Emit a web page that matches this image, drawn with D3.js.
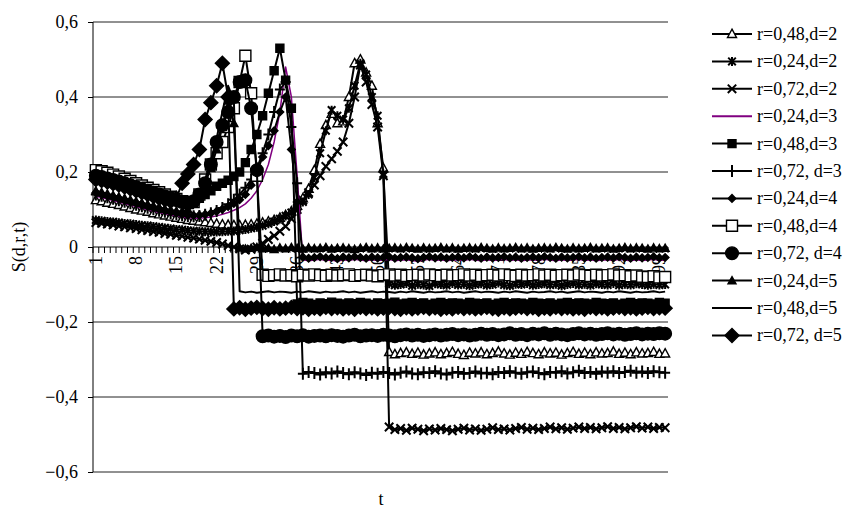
<!DOCTYPE html>
<html><head><meta charset="utf-8">
<script src="https://cdn.jsdelivr.net/npm/d3@7/dist/d3.min.js"></script>
<style>body{margin:0;background:#fff}svg text{font-family:"Liberation Serif","Times New Roman",serif !important;fill:#000}</style>
</head><body><svg id="c" width="863" height="517"></svg>
<script>
// ---------- DATA ----------
const categories = ["1","2","3","4","5","6","7","8","9","10","11","12","13","14","15","16","17","18","19","20","21","22","23","24","25","26","27","28","29","30","31","32","33","34","35","36","37","38","39","40","41","42","43","44","45","46","47","48","49","50","51","52","53","54","55","56","57","58","59","60","61","62","63","64","65","66","67","68","69","70","71","72","73","74","75","76","77","78","79","80","81","82","83","84","85","86","87","88","89","90","91","92","93","94","95","96","97","98","99","100"];
const xTickLabels = ["1","8","15","22","29","36","43","50","57","64","71","78","85","92","99"];
const yTickValues = [-0.6,-0.4,-0.2,0,0.2,0.4,0.6];
const seriesNames = ["r=0,48,d=2","r=0,24,d=2","r=0,72,d=2","r=0,24,d=3","r=0,48,d=3","r=0,72, d=3","r=0,24,d=4","r=0,48,d=4","r=0,72, d=4","r=0,24,d=5","r=0,48,d=5","r=0,72, d=5"];

const s48d2 = [0.125,0.122,0.118,0.115,0.112,0.108,0.104,0.100,0.097,0.094,
0.090,0.087,0.084,0.081,0.078,0.075,0.072,0.070,0.068,0.066,
0.064,0.062,0.060,0.059,0.058,0.058,0.059,0.060,0.062,0.065,
0.068,0.072,0.078,0.085,0.095,0.110,0.130,0.155,0.205,0.275,
0.325,0.355,0.330,0.335,0.400,0.490,0.500,0.465,0.430,0.330,
0.210,
-0.280,-0.286,-0.283,-0.281,-0.285,-0.282,-0.287,-0.284,-0.281,-0.286,
-0.283,-0.280,-0.285,-0.288,-0.282,-0.284,-0.281,-0.286,-0.283,-0.279,
-0.284,-0.287,-0.282,-0.285,-0.280,-0.283,-0.286,-0.281,-0.284,-0.282,
-0.287,-0.283,-0.280,-0.285,-0.282,-0.286,-0.281,-0.284,-0.283,-0.279,
-0.285,-0.282,-0.286,-0.281,-0.284,-0.283,-0.280,-0.285,-0.284];

const s24d2 = [0.072,0.070,0.068,0.067,0.065,0.063,0.062,0.060,0.058,0.057,
0.055,0.053,0.051,0.049,0.047,0.046,0.044,0.043,0.042,0.041,
0.040,0.040,0.041,0.042,0.043,0.045,0.047,0.050,0.053,0.057,
0.062,0.068,0.075,0.083,0.092,0.105,0.120,0.140,0.185,0.250,
0.310,0.365,0.350,0.340,0.370,0.430,0.490,0.460,0.400,0.350,
0.195,
-0.098,-0.102,-0.100,-0.097,-0.103,-0.099,-0.101,-0.104,-0.098,-0.100,
-0.102,-0.097,-0.101,-0.099,-0.103,-0.100,-0.098,-0.102,-0.100,-0.096,
-0.101,-0.103,-0.099,-0.100,-0.097,-0.102,-0.100,-0.098,-0.101,-0.099,
-0.103,-0.100,-0.097,-0.101,-0.099,-0.102,-0.098,-0.100,-0.101,-0.097,
-0.102,-0.099,-0.101,-0.098,-0.100,-0.102,-0.099,-0.101,-0.100];

const s72d2 = [0.065,0.063,0.061,0.059,0.056,0.054,0.051,0.049,0.046,0.044,
0.041,0.039,0.036,0.034,0.031,0.029,0.026,0.024,0.021,0.018,
0.015,0.012,0.008,0.004,0.000,-0.005,-0.008,-0.006,0.000,0.010,
0.020,0.030,0.042,0.055,0.075,0.100,0.125,0.145,0.165,0.190,
0.215,0.235,0.255,0.280,0.330,0.400,0.485,0.440,0.380,0.320,
0.190,
-0.480,-0.487,-0.484,-0.489,-0.483,-0.486,-0.490,-0.485,-0.488,-0.484,
-0.487,-0.490,-0.486,-0.483,-0.488,-0.485,-0.489,-0.486,-0.482,-0.487,
-0.485,-0.488,-0.484,-0.481,-0.486,-0.483,-0.487,-0.484,-0.480,-0.485,
-0.482,-0.486,-0.483,-0.480,-0.484,-0.481,-0.485,-0.482,-0.479,-0.484,
-0.481,-0.485,-0.482,-0.479,-0.483,-0.480,-0.484,-0.481,-0.482];

const s24d3 = [0.135,0.132,0.128,0.124,0.120,0.116,0.112,0.108,0.104,0.100,
0.096,0.092,0.089,0.086,0.083,0.080,0.078,0.077,0.077,0.078,
0.080,0.083,0.087,0.092,0.098,0.105,0.115,0.130,0.150,0.180,
0.220,0.280,0.360,0.480,0.400,0.190,
-0.034,-0.037,-0.035,-0.033,-0.036,-0.035,-0.038,-0.034,-0.036,-0.033,
-0.035,-0.037,-0.034,-0.036,-0.035,-0.033,-0.037,-0.035,-0.034,-0.036,
-0.038,-0.035,-0.033,-0.036,-0.034,-0.037,-0.035,-0.034,-0.036,-0.033,
-0.035,-0.037,-0.034,-0.036,-0.035,-0.033,-0.036,-0.034,-0.037,-0.035,
-0.034,-0.036,-0.033,-0.035,-0.037,-0.034,-0.036,-0.035,-0.033,-0.036,
-0.034,-0.037,-0.035,-0.034,-0.036,-0.033,-0.035,-0.037,-0.034,-0.036,
-0.035,-0.033,-0.036,-0.035];

const s48d3 = [0.200,0.197,0.193,0.189,0.184,0.179,0.174,0.168,0.162,0.156,
0.150,0.144,0.138,0.132,0.126,0.121,0.117,0.120,0.130,0.140,
0.150,0.162,0.170,0.178,0.188,0.200,0.225,0.260,0.300,0.350,
0.410,0.470,0.530,0.445,0.370,
-0.152,-0.148,-0.150,-0.153,-0.149,-0.151,-0.147,-0.150,-0.152,-0.149,
-0.151,-0.148,-0.150,-0.153,-0.149,-0.151,-0.150,-0.147,-0.152,-0.150,
-0.148,-0.151,-0.149,-0.153,-0.150,-0.148,-0.151,-0.149,-0.150,-0.152,
-0.148,-0.150,-0.151,-0.149,-0.153,-0.150,-0.148,-0.151,-0.149,-0.150,
-0.152,-0.148,-0.150,-0.151,-0.149,-0.153,-0.150,-0.148,-0.151,-0.149,
-0.150,-0.152,-0.148,-0.150,-0.151,-0.149,-0.153,-0.150,-0.148,-0.151,
-0.149,-0.150,-0.152,-0.148,-0.150];

const s72d3 = [0.140,0.137,0.133,0.129,0.125,0.121,0.117,0.113,0.109,0.105,
0.101,0.097,0.094,0.091,0.088,0.085,0.083,0.082,0.083,0.086,
0.090,0.096,0.104,0.114,0.126,0.140,0.158,0.180,0.210,0.250,
0.300,0.360,0.420,0.440,0.320,0.170,
-0.338,-0.333,-0.336,-0.340,-0.334,-0.337,-0.332,-0.336,-0.339,-0.334,
-0.337,-0.341,-0.335,-0.338,-0.333,-0.336,-0.340,-0.335,-0.332,-0.337,
-0.339,-0.334,-0.336,-0.331,-0.337,-0.340,-0.335,-0.333,-0.338,-0.336,
-0.332,-0.337,-0.335,-0.339,-0.333,-0.336,-0.331,-0.335,-0.338,-0.334,
-0.332,-0.336,-0.339,-0.333,-0.335,-0.331,-0.337,-0.334,-0.330,-0.336,
-0.333,-0.338,-0.332,-0.335,-0.331,-0.336,-0.333,-0.330,-0.335,-0.332,
-0.336,-0.331,-0.334,-0.335];

const s24d4 = [0.145,0.141,0.137,0.133,0.129,0.125,0.121,0.117,0.113,0.109,
0.105,0.101,0.097,0.093,0.090,0.087,0.085,0.084,0.085,0.087,
0.090,0.095,0.101,0.108,0.116,0.126,0.140,0.165,0.200,0.240,
0.270,0.310,0.360,0.400,0.260,0.120,
-0.027,-0.030,-0.028,-0.026,-0.029,-0.028,-0.031,-0.027,-0.029,-0.026,
-0.028,-0.030,-0.027,-0.029,-0.028,-0.026,-0.030,-0.028,-0.027,-0.029,
-0.031,-0.028,-0.026,-0.029,-0.027,-0.030,-0.028,-0.027,-0.029,-0.026,
-0.028,-0.030,-0.027,-0.029,-0.028,-0.026,-0.029,-0.027,-0.030,-0.028,
-0.027,-0.029,-0.026,-0.028,-0.030,-0.027,-0.029,-0.028,-0.026,-0.029,
-0.027,-0.030,-0.028,-0.027,-0.029,-0.026,-0.028,-0.030,-0.027,-0.029,
-0.028,-0.026,-0.029,-0.028];

const s48d4 = [0.205,0.202,0.198,0.193,0.188,0.182,0.176,0.170,0.164,0.158,
0.152,0.146,0.140,0.134,0.128,0.122,0.117,0.120,0.140,0.180,
0.220,0.250,0.280,0.320,0.370,0.440,0.510,0.410,0.190,
-0.074,-0.077,-0.075,-0.073,-0.076,-0.075,-0.078,-0.074,-0.076,-0.073,
-0.075,-0.077,-0.074,-0.076,-0.075,-0.073,-0.077,-0.075,-0.074,-0.076,
-0.078,-0.075,-0.073,-0.076,-0.074,-0.077,-0.075,-0.074,-0.076,-0.073,
-0.075,-0.077,-0.074,-0.076,-0.075,-0.073,-0.076,-0.074,-0.077,-0.075,
-0.074,-0.076,-0.073,-0.075,-0.077,-0.074,-0.076,-0.075,-0.073,-0.076,
-0.074,-0.077,-0.075,-0.074,-0.076,-0.073,-0.075,-0.077,-0.074,-0.076,
-0.075,-0.073,-0.076,-0.075,-0.078,-0.076,-0.079,-0.080,-0.078,-0.081,
-0.080];

const s72d4 = [0.190,0.187,0.183,0.179,0.175,0.170,0.165,0.160,0.155,0.150,
0.145,0.140,0.135,0.130,0.125,0.120,0.118,0.122,0.140,0.170,
0.220,0.280,0.325,0.360,0.400,0.440,0.445,0.370,0.205,
-0.238,-0.236,-0.239,-0.237,-0.240,-0.236,-0.238,-0.235,-0.239,-0.237,
-0.236,-0.238,-0.235,-0.237,-0.239,-0.236,-0.234,-0.238,-0.236,-0.235,
-0.237,-0.234,-0.236,-0.238,-0.235,-0.233,-0.236,-0.234,-0.237,-0.235,
-0.233,-0.236,-0.234,-0.232,-0.235,-0.233,-0.236,-0.234,-0.231,-0.234,
-0.232,-0.235,-0.233,-0.230,-0.234,-0.232,-0.235,-0.231,-0.233,-0.230,
-0.234,-0.231,-0.233,-0.235,-0.232,-0.230,-0.233,-0.231,-0.234,-0.232,
-0.230,-0.233,-0.231,-0.234,-0.232,-0.230,-0.233,-0.231,-0.232,-0.230,
-0.231];

const s24d5 = [0.150,0.146,0.142,0.138,0.134,0.130,0.126,0.122,0.118,0.114,
0.110,0.106,0.102,0.099,0.096,0.095,0.100,0.115,0.140,0.170,
0.210,0.260,0.320,0.390,0.330,
-0.002,-0.005,-0.003,-0.001,-0.004,-0.003,-0.006,-0.002,-0.004,-0.001,
-0.003,-0.005,-0.002,-0.004,-0.003,-0.001,-0.005,-0.003,-0.002,-0.004,
-0.006,-0.003,-0.001,-0.004,-0.002,-0.005,-0.003,-0.002,-0.004,-0.001,
-0.003,-0.005,-0.002,-0.004,-0.003,-0.001,-0.004,-0.002,-0.005,-0.003,
-0.002,-0.004,-0.001,-0.003,-0.005,-0.002,-0.004,-0.003,-0.001,-0.004,
-0.002,-0.005,-0.003,-0.002,-0.004,-0.001,-0.003,-0.005,-0.002,-0.004,
-0.003,-0.001,-0.004,-0.003,-0.002,-0.005,-0.003,-0.001,-0.004,-0.002,
-0.003,-0.005,-0.002,-0.004,-0.003];

const s48d5 = [0.185,0.181,0.177,0.173,0.168,0.163,0.158,0.153,0.148,0.143,
0.138,0.133,0.128,0.123,0.118,0.115,0.118,0.130,0.150,0.180,
0.230,0.290,0.360,0.430,0.390,
-0.118,-0.121,-0.119,-0.122,-0.120,-0.118,-0.121,-0.119,-0.120,-0.122,
-0.119,-0.121,-0.118,-0.120,-0.122,-0.119,-0.121,-0.120,-0.118,-0.121,
-0.119,-0.122,-0.120,-0.118,-0.121,-0.119,-0.120,-0.122,-0.119,-0.121,
-0.118,-0.120,-0.122,-0.119,-0.121,-0.120,-0.118,-0.121,-0.119,-0.122,
-0.120,-0.118,-0.121,-0.119,-0.120,-0.122,-0.119,-0.121,-0.118,-0.120,
-0.122,-0.119,-0.121,-0.120,-0.118,-0.121,-0.119,-0.122,-0.120,-0.118,
-0.121,-0.119,-0.120,-0.122,-0.119,-0.121,-0.118,-0.120,-0.122,-0.119,
-0.121,-0.120,-0.118,-0.121,-0.119];

const s72d5 = [0.180,0.177,0.173,0.169,0.165,0.160,0.155,0.150,0.145,0.140,
0.135,0.130,0.126,0.122,0.130,0.170,0.195,0.220,0.260,0.340,
0.385,0.430,0.490,0.400,
-0.165,-0.162,-0.166,-0.163,-0.161,-0.164,-0.166,-0.162,-0.165,-0.163,
-0.161,-0.164,-0.162,-0.166,-0.163,-0.165,-0.161,-0.164,-0.162,-0.165,
-0.163,-0.166,-0.161,-0.164,-0.162,-0.165,-0.163,-0.161,-0.164,-0.166,
-0.162,-0.165,-0.163,-0.161,-0.164,-0.162,-0.166,-0.163,-0.165,-0.161,
-0.164,-0.162,-0.165,-0.163,-0.161,-0.164,-0.166,-0.162,-0.165,-0.163,
-0.161,-0.164,-0.162,-0.166,-0.163,-0.165,-0.161,-0.164,-0.162,-0.165,
-0.163,-0.166,-0.161,-0.164,-0.162,-0.165,-0.163,-0.161,-0.164,-0.162,
-0.165,-0.163,-0.161,-0.164,-0.162,-0.163];

const seriesValues = [s48d2,s24d2,s72d2,s24d3,s48d3,s72d3,s24d4,s48d4,s72d4,s24d5,s48d5,s72d5];

// ---------- STYLES ----------
const markerTypes = ["triOpen","asterisk","x","none","squareFill","plus","diamondSmall","squareOpen","circle","triSmall","none","diamondBig"];
const lineColors = ["#000","#000","#000","#800080","#000","#000","#000","#000","#000","#000","#000","#000"];
const FONT = "Liberation Serif";

function markerPath(t){
  switch(t){
    case "triOpen": return "M0,-4.8L4.5,3.5L-4.5,3.5Z";
    case "asterisk": return "M-3.8,-3.8L3.8,3.8M-3.8,3.8L3.8,-3.8M0,-4.5L0,4.5";
    case "x": return "M-4.2,-4.2L4.2,4.2M-4.2,4.2L4.2,-4.2";
    case "squareFill": return "M-4,-4h8v8h-8Z";
    case "plus": return "M-5,0H5M0,-6V6";
    case "diamondSmall": return "M0,-3.8L3.8,0L0,3.8L-3.8,0Z";
    case "squareOpen": return "M-5.5,-5.5h11v11h-11Z";
    case "circle": return d3.symbol(d3.symbolCircle, Math.PI*6.3*6.3)();
    case "triSmall": return "M0,-4L4,3.2L-4,3.2Z";
    case "diamondBig": return "M0,-7L7,0L0,7L-7,0Z";
  }
  return null;
}
function markerFill(t){ return (t==="triOpen"||t==="squareOpen") ? "#fff" : (t==="asterisk"||t==="x"||t==="plus") ? "none" : "#000"; }
function markerStroke(t){ return (t==="asterisk"||t==="x"||t==="plus") ? 2 : 1.4; }

// ---------- CHART ----------
const svg = d3.select("#c");
const x = d3.scaleBand().domain(categories).range([93,668]).padding(0);
const cx = c => x(c) + x.bandwidth()/2;
const y = d3.scaleLinear().domain([-0.6,0.6]).range([472,22]);
const fmt = d => d===0 ? "0" : d3.format(".1f")(d).replace(".",",");

// gridlines
svg.append("g").selectAll("line").data(yTickValues.filter(v=>v!==0)).join("line")
  .attr("x1",93).attr("x2",668).attr("y1",d=>y(d)).attr("y2",d=>y(d))
  .attr("stroke","#222").attr("stroke-width",1);

// y axis
const yAx = svg.append("g").attr("transform","translate(93,0)")
  .call(d3.axisLeft(y).tickValues(yTickValues).tickFormat(fmt).tickSize(5).tickPadding(10));
yAx.attr("font-family",FONT).attr("font-size",18);
yAx.select(".domain").attr("stroke","#000").attr("d","M0,22V472");
yAx.selectAll("text").attr("font-size",18).attr("font-family",FONT);

// x axis at 0
const x0 = y(0);
const xAx = svg.append("g");
xAx.append("line").attr("x1",93).attr("x2",668).attr("y1",x0).attr("y2",x0).attr("stroke","#000");
xAx.selectAll("line.tk").data(categories.concat(["end"])).join("line").attr("class","tk")
  .attr("x1",d=> d==="end" ? x.range()[1] : x(d)).attr("x2",d=> d==="end" ? x.range()[1] : x(d))
  .attr("y1",x0).attr("y2",x0+6).attr("stroke","#000");
xAx.selectAll("text").data(xTickLabels).join("text")
  .attr("transform",d=>`translate(${cx(d)+6},${x0+9}) rotate(-90)`)
  .attr("text-anchor","end").attr("font-size",18).attr("font-family",FONT).text(d=>d);

// series
const line = d3.line().x((d,i)=>cx(categories[i])).y(d=>y(d));
seriesValues.forEach((vals,si)=>{
  const g = svg.append("g");
  g.append("path").attr("d",line(vals)).attr("fill","none")
    .attr("stroke",lineColors[si]).attr("stroke-width",si===3?1.5:2).attr("stroke-linejoin","round");
  const mt = markerTypes[si];
  const p = markerPath(mt);
  if(p){
    g.selectAll("path.m").data(vals).join("path").attr("class","m")
      .attr("transform",(d,i)=>`translate(${cx(categories[i])},${y(d)})`)
      .attr("d",p).attr("fill",markerFill(mt)).attr("stroke","#000").attr("stroke-width",markerStroke(mt));
  }
});

// legend
const lg = svg.append("g");
seriesNames.forEach((name,i)=>{
  const ly = 34 + i*27.4;
  lg.append("line").attr("x1",712).attr("x2",752).attr("y1",ly).attr("y2",ly)
    .attr("stroke",lineColors[i]).attr("stroke-width",2);
  const p = markerPath(markerTypes[i]);
  if(p) lg.append("path").attr("transform",`translate(732,${ly})`).attr("d",p)
    .attr("fill",markerFill(markerTypes[i])).attr("stroke","#000").attr("stroke-width",markerStroke(markerTypes[i]));
  lg.append("text").attr("x",757).attr("y",ly+6).attr("font-size",18).attr("font-family",FONT).text(name);
});

// axis titles
svg.append("text").attr("transform","translate(25,247) rotate(-90)").attr("text-anchor","middle").attr("font-size",18).attr("font-family",FONT).text("S(d,r,t)");
svg.append("text").attr("x",381).attr("y",505).attr("text-anchor","middle").attr("font-size",18).attr("font-family",FONT).text("t");
</script></body></html>
